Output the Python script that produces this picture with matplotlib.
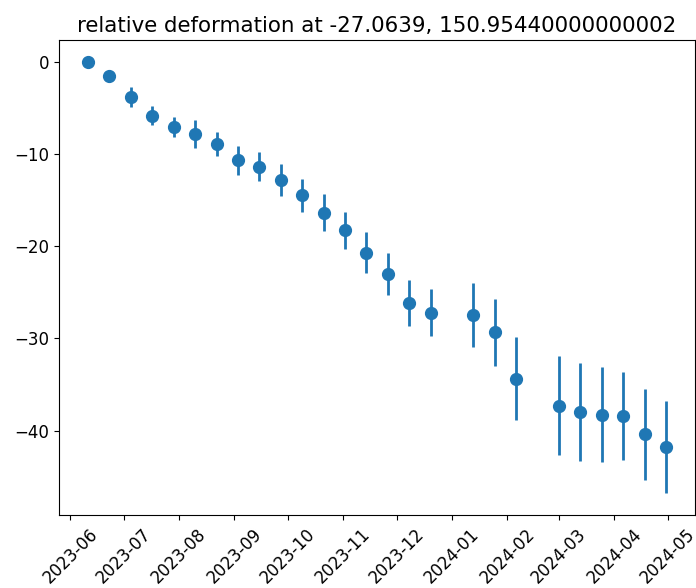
import matplotlib
matplotlib.use("Agg")
import matplotlib.pyplot as plt
import matplotlib.dates as mdates
import numpy as np
import datetime as dt

start = dt.date(2023, 6, 11)
step_index = [0, 1, 2, 3, 4, 5, 6, 7, 8, 9, 10, 11, 12, 13, 14, 15, 16,
              18, 19, 20, 22, 23, 24, 25, 26, 27]
dates = [start + dt.timedelta(days=12 * k) for k in step_index]
deformation = [0.0, -1.6, -3.85, -5.85, -7.05, -7.85, -8.9, -10.7, -11.4, -12.8,
               -14.5, -16.4, -18.3, -20.7, -23.0, -26.15, -27.2,
               -27.45, -29.35, -34.35, -37.3, -38.0, -38.25, -38.4, -40.4, -41.8]
errors = [0.0, 0.4, 1.05, 1.05, 1.08, 1.5, 1.3, 1.6, 1.57, 1.75,
          1.8, 2.0, 2.02, 2.18, 2.3, 2.5, 2.55,
          3.43, 3.65, 4.47, 5.35, 5.3, 5.15, 4.75, 4.93, 5.0]
title = "relative deformation at -27.0639, 150.95440000000002"

plt.rcParams['font.size'] = 12
fig = plt.figure(figsize=(6.96, 5.88), dpi=100)
ax = fig.add_subplot(111)
fig.subplots_adjust(left=0.085, right=0.9986, top=0.932, bottom=0.124)
ax.errorbar(dates, deformation, yerr=errors, fmt='o', color='#1f77b4',
            markersize=8.5, elinewidth=2)
ax.set_title(title, fontsize=15.4)
ax.xaxis.set_major_locator(mdates.MonthLocator())
ax.xaxis.set_major_formatter(mdates.DateFormatter('%Y-%m'))
plt.setp(ax.get_xticklabels(), rotation=45)
fig.savefig("out.png", dpi=100)
